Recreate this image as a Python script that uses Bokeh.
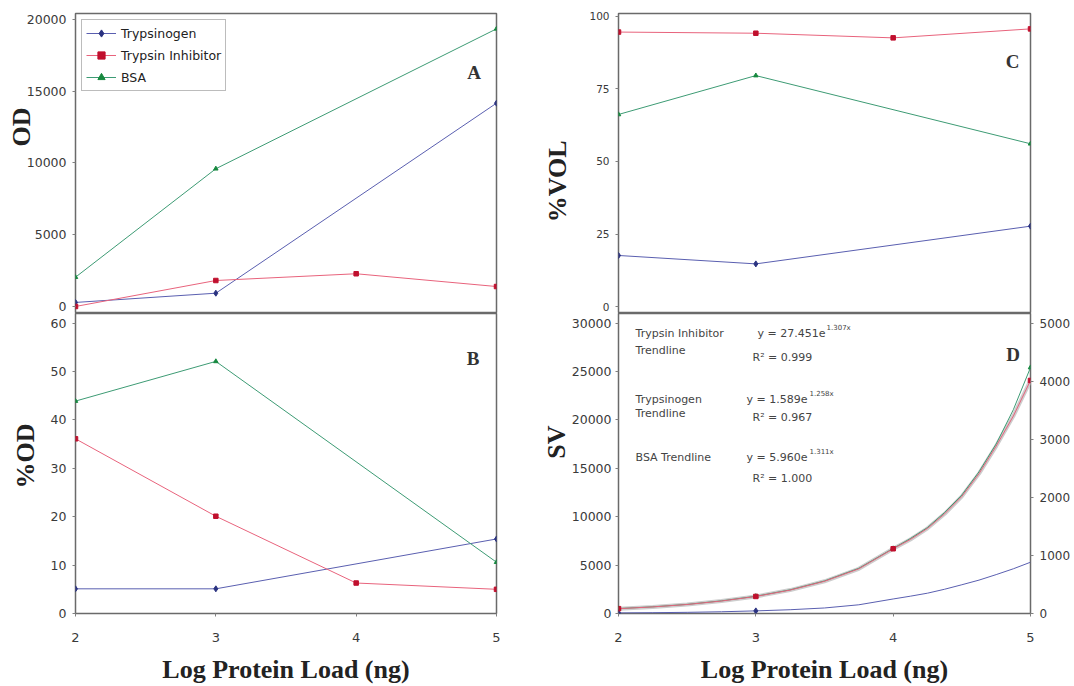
import math
from bokeh.plotting import figure
from bokeh.models import Range1d, LinearAxis, FixedTicker, Label, Title
from bokeh.layouts import row, column
from bokeh.embed import file_html
from bokeh.resources import INLINE

# ---------------- data ----------------
LOAD_ALL = [2, 3, 4, 5]
LOAD_NO4 = [2, 3, 5]
SERIES = ["Trypsinogen", "Trypsin Inhibitor", "BSA"]

A_TRYPSINOGEN = [280, 925, 14170]
A_INHIBITOR = [0, 1810, 2280, 1390]
A_BSA = [2040, 9600, 19350]

B_TRYPSINOGEN = [5.1, 5.1, 15.4]
B_INHIBITOR = [36.1, 20.1, 6.3, 5.0]
B_BSA = [43.9, 52.1, 10.6]

C_TRYPSINOGEN = [17.6, 14.7, 27.7]
C_INHIBITOR = [94.6, 94.2, 92.6, 95.7]
C_BSA = [66.2, 79.6, 56.1]

D_LOAD = [2, 2.25, 2.5, 2.75, 3, 3.25, 3.5, 3.75, 4, 4.125, 4.25, 4.375, 4.5, 4.625, 4.75, 4.875, 5]
D_INHIBITOR_CURVE = [500, 680, 930, 1290, 1760, 2420, 3330, 4620, 6690, 7650, 8800, 10300,
                     12100, 14450, 17300, 20400, 24080]
D_BSA_CURVE = [85, 115, 157, 218, 297, 408, 561, 778, 1120, 1290, 1480, 1740,
               2040, 2440, 2920, 3510, 4236]
D_TRYPSINOGEN_CURVE = [10, 14, 20, 30, 45, 65, 95, 150, 250, 298, 350, 418,
                       495, 575, 670, 770, 883]
D_INHIBITOR_PTS = [500, 1760, 6690, 24080]
D_BSA_PTS = [85, 297, 1120, 4236]
D_TRYPSINOGEN_LOAD = [2, 3]
D_TRYPSINOGEN_PTS = [10, 45]

X_TICKS = [2, 3, 4, 5]
A_TICKS = [0, 5000, 10000, 15000, 20000]
B_TICKS = [0, 10, 20, 30, 40, 50, 60]
C_TICKS = [0, 25, 50, 75, 100]
D_TICKS_LEFT = [0, 5000, 10000, 15000, 20000, 25000, 30000]
D_TICKS_RIGHT = [0, 1000, 2000, 3000, 4000, 5000]

TRENDLINE_TEXT = [
    ("Trypsin Inhibitor", "Trendline", "y = 27.451e", "1.307x", "R\u00b2 = 0.999"),
    ("Trypsinogen", "Trendline", "y = 1.589e", "1.258x", "R\u00b2 = 0.967"),
    ("BSA Trendline", "", "y = 5.960e", "1.311x", "R\u00b2 = 1.000"),
]

# ---------------- style ----------------
BLUE, BLUE_M = "#5a5fb0", "#2a3280"
RED, RED_M = "#e8637c", "#c0102e"
GREEN, GREEN_M = "#3d9b74", "#17893f"
SERIF = "Liberation Serif"
SANS = "DejaVu Sans"


def make_fig(frame_w, yr, top, bottom, left, right, xaxis):
    p = figure(frame_width=frame_w, frame_height=300,
               x_range=Range1d(2, 5), y_range=yr,
               x_axis_location="below" if xaxis else None,
               min_border_left=left, min_border_right=right,
               min_border_top=top, min_border_bottom=bottom,
               output_backend="svg", toolbar_location=None)
    p.grid.visible = False
    p.outline_line_color = "#6a6a6a"
    p.outline_line_width = 1.5
    p.background_fill_color = "white"
    p.border_fill_color = "white"
    return p


def style_axis(ax, size, standoff, tick_out=3):
    ax.axis_line_color = None
    ax.major_tick_out = tick_out
    ax.major_tick_in = 0
    ax.major_tick_line_color = "#808080"
    ax.minor_tick_line_color = None
    ax.major_label_text_font = SANS
    ax.major_label_text_font_size = size
    ax.major_label_text_color = "#3a3a3a"
    ax.major_label_standoff = standoff


def style_xaxis(p):
    ax = p.xaxis[0]
    ax.ticker = FixedTicker(ticks=X_TICKS)
    style_axis(ax, "13px", 16)
    ax.axis_label = "Log Protein Load (ng)"
    ax.axis_label_text_font = SERIF
    ax.axis_label_text_font_style = "bold"
    ax.axis_label_text_font_size = "26px"
    ax.axis_label_text_color = "#222222"
    ax.axis_label_standoff = 10


def add_ytitle(p, text, offset, standoff):
    t = Title(text=text, align="right", vertical_align="middle", offset=offset,
              text_font=SERIF, text_font_style="bold", text_font_size="26px",
              text_color="#222222")
    try:
        t.standoff = standoff
    except Exception:
        t.standoff = 0
    p.add_layout(t, "left")


def add_text(p, x, y, text, size, font=SERIF, bold=True, align="center",
             baseline="middle", color="#222222"):
    p.add_layout(Label(x=x, y=y, text=text, text_font=font,
                       text_font_style="bold" if bold else "normal",
                       text_font_size=size, text_align=align,
                       text_baseline=baseline, text_color=color))


def draw_three(p, blue, red, green, legend=False):
    kw = (lambda n: {"legend_label": n}) if legend else (lambda n: {})
    p.line(LOAD_NO4, blue, line_color=BLUE, line_width=1, **kw(SERIES[0]))
    p.scatter(LOAD_NO4, blue, marker="diamond", size=6, color=BLUE_M, **kw(SERIES[0]))
    p.line(LOAD_ALL, red, line_color=RED, line_width=1, **kw(SERIES[1]))
    p.scatter(LOAD_ALL, red, marker="square", size=4.5, color=RED_M, **kw(SERIES[1]))
    p.line(LOAD_NO4, green, line_color=GREEN, line_width=1, **kw(SERIES[2]))
    p.scatter(LOAD_NO4, green, marker="triangle", size=4.5, color=GREEN_M, **kw(SERIES[2]))


# ---------------- panel A ----------------
pa = make_fig(421, Range1d(-490, 20420), 13, 0, 75, 32, False)
draw_three(pa, A_TRYPSINOGEN, A_INHIBITOR, A_BSA, legend=True)
style_axis(pa.yaxis[0], "12.5px", 6)
pa.yaxis[0].ticker = FixedTicker(ticks=A_TICKS)
lg = pa.legend[0]
lg.location = "top_left"
lg.margin = 6
lg.padding = 4
lg.spacing = 4
lg.glyph_width = 30
lg.glyph_height = 18
lg.label_height = 18
lg.label_standoff = 5
lg.label_text_font = SANS
lg.label_text_font_size = "12.5px"
lg.label_text_color = "#222222"
lg.border_line_color = "#7a7a7a"
lg.border_line_width = 1
lg.background_fill_alpha = 1.0
add_text(pa, 4.840, 16308, "A", "19px", color="#333333")
add_ytitle(pa, "OD", 94, -27)

# ---------------- panel B ----------------
pb = make_fig(421, Range1d(0, 62), 0, 73, 75, 32, True)
draw_three(pb, B_TRYPSINOGEN, B_INHIBITOR, B_BSA)
style_axis(pb.yaxis[0], "12.5px", 6)
pb.yaxis[0].ticker = FixedTicker(ticks=B_TICKS)
style_xaxis(pb)
add_text(pb, 4.834, 52.7, "B", "19px", color="#333333")
add_ytitle(pb, "%OD", 110, 14)

# ---------------- panel C ----------------
pc = make_fig(412, Range1d(-2.4, 101.0), 13, 0, 89, 45, False)
draw_three(pc, C_TRYPSINOGEN, C_INHIBITOR, C_BSA)
style_axis(pc.yaxis[0], "10.5px", 6)
pc.yaxis[0].ticker = FixedTicker(ticks=C_TICKS)
add_text(pc, 4.869, 84.5, "C", "19px", color="#333333")
add_ytitle(pc, "%VOL", 127, 27)

# ---------------- panel D ----------------
pd_ = make_fig(412, Range1d(0, 31000), 0, 73, 89, 45, True)
pd_.extra_y_ranges = {"right": Range1d(0, 5166.7)}
pd_.line(D_LOAD, D_INHIBITOR_CURVE, line_color="#cdcdcd", line_width=4)
pd_.line(D_LOAD, D_TRYPSINOGEN_CURVE, line_color=BLUE, line_width=1, y_range_name="right")
pd_.line(D_LOAD, D_BSA_CURVE, line_color=GREEN, line_width=1, y_range_name="right")
pd_.line(D_LOAD, D_INHIBITOR_CURVE, line_color=RED, line_width=1)
pd_.scatter(LOAD_ALL, D_BSA_PTS, marker="triangle", size=4.5, color=GREEN_M, y_range_name="right")
pd_.scatter(D_TRYPSINOGEN_LOAD, D_TRYPSINOGEN_PTS, marker="diamond", size=6, color=BLUE_M,
            y_range_name="right")
pd_.scatter(LOAD_ALL, D_INHIBITOR_PTS, marker="square", size=4.5, color=RED_M)
style_axis(pd_.yaxis[0], "12.5px", 4)
pd_.yaxis[0].ticker = FixedTicker(ticks=D_TICKS_LEFT)
rax = LinearAxis(y_range_name="right", ticker=FixedTicker(ticks=D_TICKS_RIGHT))
style_axis(rax, "12px", 6)
pd_.add_layout(rax, "right")
style_xaxis(pd_)
add_text(pd_, 4.873, 26760, "D", "19px", color="#333333")
add_ytitle(pd_, "SV", 112, -7)

# trendline annotations
ROWS_Y = [(28930, 27180, 29550, 26450), (22110, 20670, 22730, 20250), (16120, None, 16740, 13950)]
EQ_RIGHT = [3.507, 3.376, 3.376]
SUP_LEFT = [3.515, 3.391, 3.391]
TXT = "#444444"
for (name, name2, eq, sup, r2), (y1, y2, ys, yr2), xr, xs in zip(TRENDLINE_TEXT, ROWS_Y, EQ_RIGHT, SUP_LEFT):
    add_text(pd_, 2.124, y1, name, "11px", font=SANS, bold=False, align="left", color=TXT)
    if name2:
        add_text(pd_, 2.124, y2, name2, "11px", font=SANS, bold=False, align="left", color=TXT)
    add_text(pd_, xr, y1, eq, "11px", font=SANS, bold=False, align="right", color=TXT)
    add_text(pd_, xs, ys, sup, "7px", font=SANS, bold=False, align="left", color=TXT)
    add_text(pd_, 2.976, yr2, r2, "11px", font=SANS, bold=False, align="left", color=TXT)

layout = row(column(pa, pb), column(pc, pd_))
open("out.html", "w").write(file_html(layout, INLINE))
